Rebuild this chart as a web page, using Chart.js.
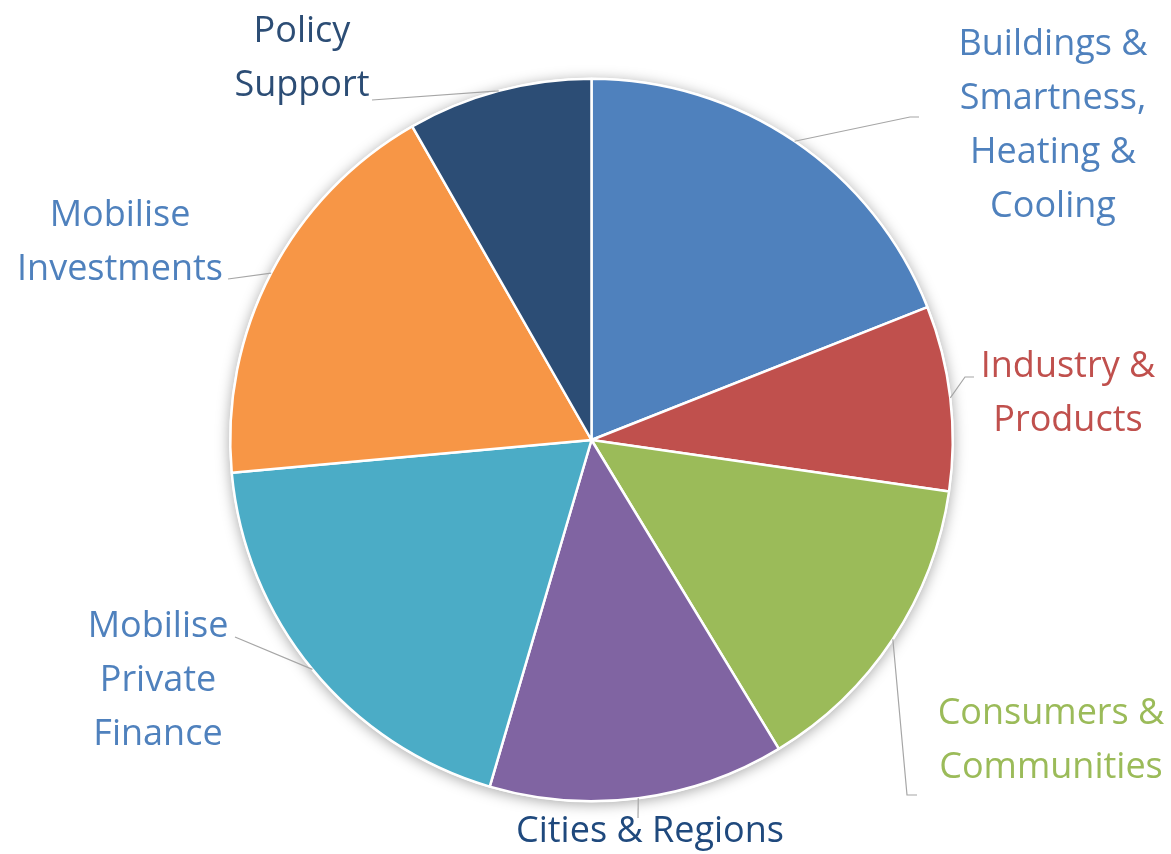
<!DOCTYPE html>
<html>
<head>
<meta charset="utf-8">
<script src="https://cdn.jsdelivr.net/npm/chart.js@4.4.1/dist/chart.umd.min.js"></script>
<style>
  html, body { margin: 0; padding: 0; background: #ffffff; }
  #wrap { width: 1171px; height: 854px; }
</style>
</head>
<body>
<div id="wrap"><canvas id="pie"></canvas></div>
<script>
// slices, clockwise from 12 o'clock
const categories = [
  "Buildings & Smartness, Heating & Cooling",
  "Industry & Products",
  "Consumers & Communities",
  "Cities & Regions",
  "Mobilise Private Finance",
  "Mobilise Investments",
  "Policy Support",
];
const values = [23, 10, 17, 16, 23, 22, 10];
const sliceColors = ["#4f81bd", "#c0504d", "#9bbb59", "#8064a2", "#4bacc6", "#f79646", "#2c4d75"];

// how each label is broken and coloured
const labelLines = [
  ["Buildings &", "Smartness,", "Heating &", "Cooling"],
  ["Industry &", "Products"],
  ["Consumers &", "Communities"],
  ["Cities & Regions"],
  ["Mobilise", "Private", "Finance"],
  ["Mobilise", "Investments"],
  ["Policy", "Support"],
];
const labelColors = ["#4f81bd", "#c0504d", "#9bbb59", "#1f497d", "#4f81bd", "#4f81bd", "#2c4d75"];

const Config = {
  font: '"Open Sans", sans-serif',
  fontSize: 36,
  lineHeight: 54,
  leader: "#a6a6a6",
};

// label placement: text centre of first line, and leader path after the arc point
const labelLayout = [
  { x: 1053, y: 45, path: [[910, 117], [919, 117]] },
  { x: 1068, y: 367, path: [[965, 377], [974, 377]] },
  { x: 1051, y: 714, path: [[907, 795], [917, 795]] },
  { x: 650, y: 832, path: [[638, 818]] },
  { x: 158, y: 627, path: [[235, 637]] },
  { x: 120, y: 216, path: [[228, 279]] },
  { x: 302, y: 32, path: [[372, 100]] },
];

const pieShadow = {
  id: "pieShadow",
  beforeDatasetsDraw(chart) {
    const arc = chart.getDatasetMeta(0).data[0];
    if (!arc) return;
    const c = chart.ctx;
    c.save();
    c.shadowColor = "rgba(0,0,0,0.35)";
    c.shadowBlur = 14;
    c.shadowOffsetX = 0;
    c.shadowOffsetY = 2;
    c.fillStyle = "#ffffff";
    c.beginPath();
    c.arc(arc.x, arc.y, arc.outerRadius + 1, 0, Math.PI * 2);
    c.fill();
    c.restore();
  },
};

const outsideLabels = {
  id: "outsideLabels",
  afterDatasetsDraw(chart) {
    const c = chart.ctx;
    const arcs = chart.getDatasetMeta(0).data;
    c.save();
    arcs.forEach((arc, i) => {
      const mid = (arc.startAngle + arc.endAngle) / 2;
      const sx = arc.x + Math.cos(mid) * arc.outerRadius;
      const sy = arc.y + Math.sin(mid) * arc.outerRadius;
      const lay = labelLayout[i];
      c.strokeStyle = Config.leader;
      c.lineWidth = 1.2;
      c.beginPath();
      c.moveTo(sx, sy);
      lay.path.forEach((p) => c.lineTo(p[0], p[1]));
      c.stroke();

      c.fillStyle = labelColors[i];
      c.font = `${Config.fontSize}px ${Config.font}`;
      c.textAlign = "center";
      c.textBaseline = "middle";
      labelLines[i].forEach((t, k) => {
        c.fillText(t, lay.x, lay.y + k * Config.lineHeight);
      });
    });
    c.restore();
  },
};

new Chart(document.getElementById("pie"), {
  type: "pie",
  data: {
    labels: categories,
    datasets: [
      {
        data: values,
        backgroundColor: sliceColors,
        borderColor: "#ffffff",
        borderWidth: 2.5,
      },
    ],
  },
  options: {
    responsive: true,
    maintainAspectRatio: false,
    animation: false,
    layout: {
      padding: { left: 229, right: 217, top: 77, bottom: 51 },
    },
    plugins: {
      legend: { display: false },
      tooltip: { enabled: false },
    },
  },
  plugins: [pieShadow, outsideLabels],
});
</script>
</body>
</html>
